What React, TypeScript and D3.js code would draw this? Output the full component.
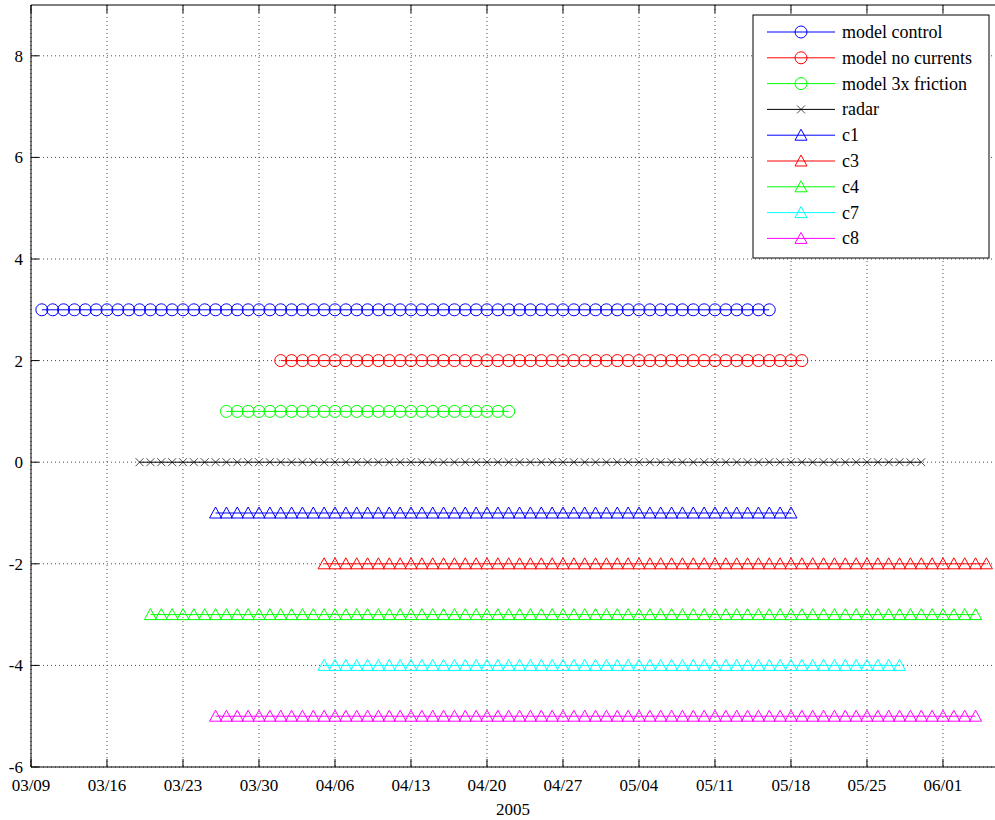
import * as d3 from "d3"
import React, { useEffect, useRef } from "react"

// series: day offsets from 03/09/2005
const names = ["model control", "model no currents", "model 3x friction", "radar", "c1", "c3", "c4", "c7", "c8"]
const levels = [3, 2, 1, 0, -1, -2, -3, -4, -5]
const startDays = [1, 23, 18, 10, 17, 27, 11, 27, 17]
const endDays = [68, 71, 44, 82, 70, 88, 87, 80, 87]
const colors = ["#0000ff", "#ff0000", "#00ff00", "#000000", "#0000ff", "#ff0000", "#00ff00", "#00ffff", "#ff00ff"]
const markers = ["o", "o", "o", "x", "^", "^", "^", "^", "^"]
const yTicks = [-6, -4, -2, 0, 2, 4, 6, 8]

const App = () => {
    const svgRef = useRef(null)

    useEffect(() => {
        const width = 995, height = 820
        const m = { left: 31, right: 0, top: 5, bottom: 53 }
        const svg = d3.select(svgRef.current).attr("width", width).attr("height", height)
        svg.selectAll("*").remove()
        const font = "Liberation Serif, DejaVu Serif, Times New Roman, serif"

        const t0 = new Date(2005, 2, 9)
        const x = d3.scaleTime()
            .domain([t0, d3.timeHour.offset(t0, 88.8 * 24)])
            .range([m.left, width - m.right])
        const y = d3.scaleLinear().domain([-6, 9]).range([height - m.bottom, m.top])
        const xTicks = d3.range(0, 13).map((w) => d3.timeDay.offset(t0, w * 7))
        const day = (d: number) => d3.timeDay.offset(t0, d)

        svg.append("rect").attr("x", 0).attr("y", 0).attr("width", width).attr("height", height).attr("fill", "#fff")

        // grid
        const grid = svg.append("g").attr("stroke", "#000").attr("stroke-dasharray", "1,3").attr("stroke-width", 1).attr("opacity", 0.7)
        xTicks.forEach((t) => grid.append("line").attr("x1", x(t)).attr("x2", x(t)).attr("y1", y(9)).attr("y2", y(-6)))
        yTicks.forEach((v) => grid.append("line").attr("x1", m.left).attr("x2", width).attr("y1", y(v)).attr("y2", y(v)))

        // axes frame
        svg.append("line").attr("x1", m.left).attr("x2", m.left).attr("y1", y(9)).attr("y2", y(-6)).attr("stroke", "#000")
        svg.append("line").attr("x1", m.left).attr("x2", width).attr("y1", y(-6)).attr("y2", y(-6)).attr("stroke", "#000")
        svg.append("line").attr("x1", m.left).attr("x2", width).attr("y1", y(9)).attr("y2", y(9)).attr("stroke", "#000")
        const text = (g) => g.attr("font-family", font).attr("font-size", 17).style("font-family", font).attr("font-weight", 500)
        xTicks.forEach((t) => {
            svg.append("line").attr("x1", x(t)).attr("x2", x(t)).attr("y1", y(-6)).attr("y2", y(-6) - 8).attr("stroke", "#000")
            svg.append("line").attr("x1", x(t)).attr("x2", x(t)).attr("y1", y(9)).attr("y2", y(9) + 8).attr("stroke", "#000")
            svg.append("text").attr("x", x(t)).attr("y", y(-6) + 24).attr("text-anchor", "middle")
                .call(text).text(d3.timeFormat("%m/%d")(t))
        })
        yTicks.forEach((v) => {
            svg.append("line").attr("x1", m.left).attr("x2", m.left + 8).attr("y1", y(v)).attr("y2", y(v)).attr("stroke", "#000")
            svg.append("text").attr("x", m.left - 8).attr("y", y(v) + 6).attr("text-anchor", "end")
                .call(text).text(v)
        })
        svg.append("text").attr("x", 513).attr("y", 815).attr("text-anchor", "middle")
            .call(text).text("2005")

        const drawMarker = (g, kind, cx, cy, color) => {
            if (kind === "o") {
                g.append("circle").attr("cx", cx).attr("cy", cy).attr("r", 6).attr("fill", "none").attr("stroke", color)
            } else if (kind === "^") {
                g.append("path").attr("d", `M${cx},${cy - 6}L${cx + 6},${cy + 5}L${cx - 6},${cy + 5}Z`)
                    .attr("fill", "none").attr("stroke", color)
            } else {
                g.append("path").attr("d", `M${cx - 4},${cy - 4}L${cx + 4},${cy + 4}M${cx - 4},${cy + 4}L${cx + 4},${cy - 4}`)
                    .attr("stroke", color).attr("opacity", 0.7)
            }
        }

        const plot = svg.append("g")
        names.forEach((_, i) => {
            const days = d3.range(startDays[i], endDays[i] + 1)
            const g = plot.append("g")
            g.append("line").attr("x1", x(day(startDays[i]))).attr("x2", x(day(endDays[i])))
                .attr("y1", y(levels[i])).attr("y2", y(levels[i])).attr("stroke", colors[i])
            days.forEach((d) => drawMarker(g, markers[i], x(day(d)), y(levels[i]), colors[i]))
        })

        // legend
        const lg = svg.append("g")
        lg.append("rect").attr("x", 753).attr("y", 15).attr("width", 236).attr("height", 243).attr("fill", "#fff").attr("stroke", "#000")
        names.forEach((n, i) => {
            const ly = 32 + i * 25.8
            lg.append("line").attr("x1", 767).attr("x2", 835).attr("y1", ly).attr("y2", ly).attr("stroke", colors[i])
            drawMarker(lg, markers[i], 801, ly, colors[i])
            lg.append("text").attr("x", 842).attr("y", ly + 6).call(text).attr("font-size", 18).text(n)
        })
    }, [])

    return <svg ref={svgRef} style={{ position: "absolute", left: 0, top: 0 }}></svg>
}

export default App
